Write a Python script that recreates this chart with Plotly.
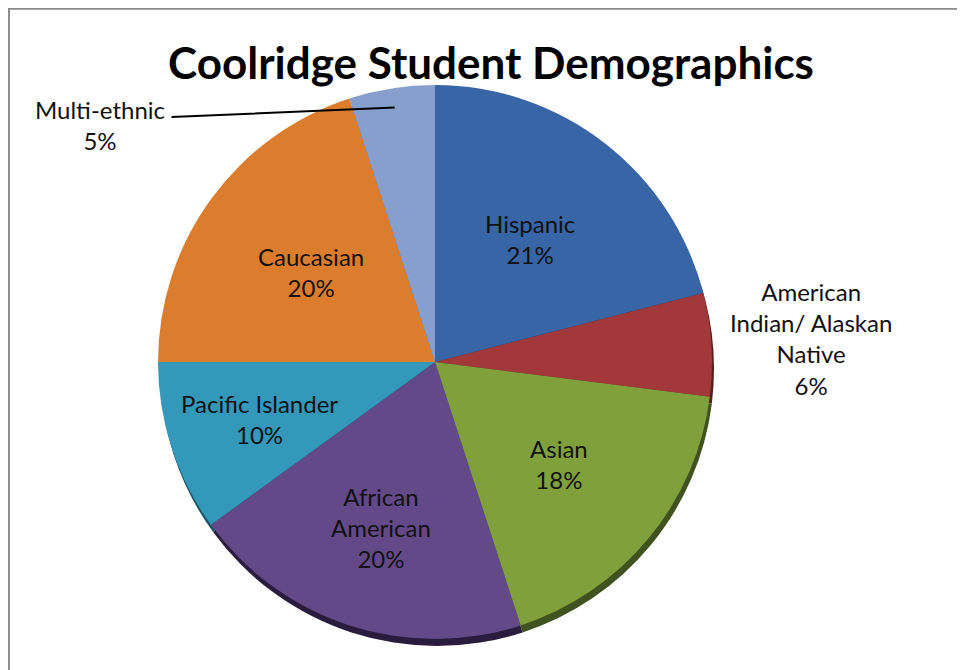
import math
import plotly.graph_objects as go

# ---- data ----
categories = ["Hispanic", "American Indian/ Alaskan Native", "Asian", "African American",
              "Pacific Islander", "Caucasian", "Multi-ethnic"]
display_labels = ["Hispanic", "American<br>Indian/ Alaskan<br>Native", "Asian", "African<br>American",
                  "Pacific Islander", "Caucasian", "Multi-ethnic"]
values = [21, 6, 18, 20, 10, 20, 5]
title_text = "Coolridge Student Demographics"

# ---- styles ----
colors = ["#3765A5", "#A2383A", "#80A03B", "#644988", "#3398B9", "#DC7D2D", "#869FCD"]
rim_colors = ["#1F3A63", "#5A1E1F", "#3F5220", "#2A1C3E", "#1A5468", "#7A4214", "#4C5E80"]
label_radius = [0.56, 1.36, 0.58, 0.63, 0.665, 0.555, None]

OFF = 8                      # page body margin
W, H = 965 - OFF, 670 - OFF  # figure size
cx, cy, R = 435, 362, 277    # pie centre and radius in window pixels


def px_to_paper(x, y):
    return (x - OFF) / W, 1 - (y - OFF) / H


x0, y1 = px_to_paper(cx - R, cy - R)
x1, y0 = px_to_paper(cx + R, cy + R)
dx_sh, dy_sh = 2 / W, 7 / H

fig = go.Figure()
fig.add_trace(go.Pie(
    values=values, labels=categories, sort=False, direction="clockwise", rotation=0,
    marker=dict(colors=rim_colors, line=dict(width=0)),
    textinfo="none", hoverinfo="skip", showlegend=False,
    domain=dict(x=[x0 + dx_sh, x1 + dx_sh], y=[y0 - dy_sh, y1 - dy_sh]),
))
fig.add_trace(go.Pie(
    values=values, labels=categories, sort=False, direction="clockwise", rotation=0,
    marker=dict(colors=colors, line=dict(width=0)),
    textinfo="none", showlegend=False,
    domain=dict(x=[x0, x1], y=[y0, y1]),
))

total = sum(values)
cum = 0
annotations = []
font = dict(family="Lato, Open Sans, sans-serif", size=24, color="#111111")
for i, v in enumerate(values):
    mid = (cum + v / 2) / total * 2 * math.pi
    cum += v
    pct = f"{round(v / total * 100)}%"
    text = f"{display_labels[i]}<br>{pct}"
    if label_radius[i] is not None:
        r = label_radius[i] * R
        lx, ly = cx + r * math.sin(mid), cy - r * math.cos(mid)
    else:
        # outside label with leader line (Multi-ethnic)
        ex, ey = cx + 0.93 * R * math.sin(mid), cy - 0.93 * R * math.cos(mid)
        lx, ly = 100, 125
        tail_x, tail_y = 170, 117
        epx, epy = px_to_paper(ex, ey)
        annotations.append(dict(x=epx, y=epy, xref="paper", yref="paper", text="",
                                showarrow=True, arrowhead=0, arrowwidth=2, arrowcolor="#000000",
                                ax=tail_x - ex, ay=tail_y - ey, standoff=0, startstandoff=0))
    px, py = px_to_paper(lx, ly)
    annotations.append(dict(x=px, y=py, xref="paper", yref="paper", text=text,
                            xanchor="center", yanchor="middle",
                            showarrow=False, font=font, align="center"))

tx, ty = px_to_paper(491, 62)
annotations.append(dict(x=tx, y=ty, xref="paper", yref="paper", xanchor="center", yanchor="middle",
                        text=f"<b>{title_text}</b>", showarrow=False,
                        font=dict(family="Lato, Open Sans, sans-serif", size=44, color="#000000")))

# chart border
fig.add_shape(type="rect", xref="paper", yref="paper", x0=0.001, y0=-0.2, x1=1.2, y1=0.999,
              line=dict(color="#8C8C8C", width=2), fillcolor="rgba(0,0,0,0)", layer="below")

fig.update_layout(
    width=W, height=H, margin=dict(l=0, r=0, t=0, b=0),
    paper_bgcolor="white", plot_bgcolor="white",
    annotations=annotations, showlegend=False,
)
fig.write_html("out.html")
